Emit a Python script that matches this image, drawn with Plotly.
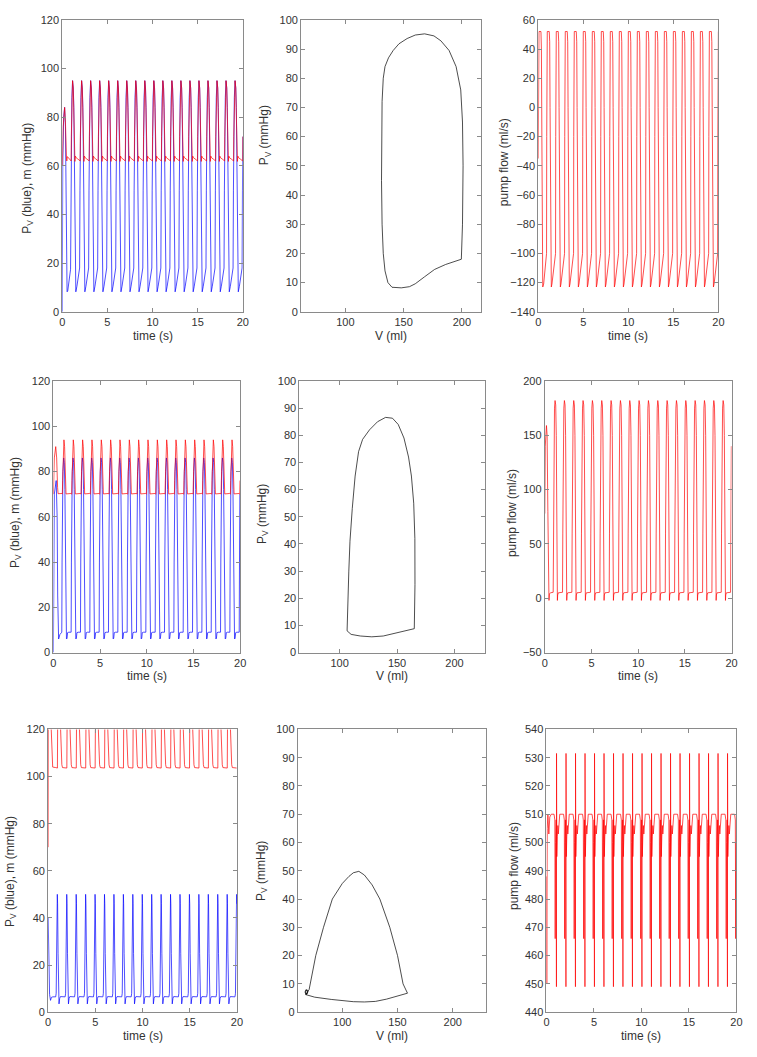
import plotly.graph_objects as go

W, H = 757, 1057

# ------------------------------------------------------------------ data
# beat onset times (s) for each row (one beat per second)
R1_BEATS = [0.92, 1.92, 2.92, 3.92, 4.92, 5.92, 6.92, 7.92, 8.92, 9.92,
            10.92, 11.92, 12.92, 13.92, 14.92, 15.92, 16.92, 17.92, 18.92, 19.92]
R2_BEATS = [0.90, 1.90, 2.90, 3.90, 4.90, 5.90, 6.90, 7.90, 8.90, 9.90,
            10.90, 11.90, 12.90, 13.90, 14.90, 15.90, 16.90, 17.90, 18.90, 19.90]
R3_BEATS = [0.80, 1.80, 2.80, 3.80, 4.80, 5.80, 6.80, 7.80, 8.80, 9.80,
            10.80, 11.80, 12.80, 13.80, 14.80, 15.80, 16.80, 17.80, 18.80, 19.80]

# ---- row 1: ventricular pressure (blue), m (red), pump flow
R1_PV_INIT_T = [0.0, 0.01, 0.05, 0.15, 0.26, 0.35, 0.42, 0.48, 0.53, 0.60, 0.75, 0.92]
R1_PV_INIT = [0, 30, 60, 80, 84, 76, 40, 12, 8.2, 8.5, 12, 17.5]
R1_PV_CYC_T = [0, 0.04, 0.08, 0.14, 0.22, 0.30, 0.36, 0.41, 0.45, 0.49, 0.53, 0.58, 0.70, 0.85, 0.98]
R1_PV_CYC = [18, 50, 72, 88, 95, 92, 84, 62, 30, 12, 8.3, 8.2, 10.5, 14, 17.5]

R1_PM_INIT_T = [0.0, 0.10, 0.26, 0.35, 0.45, 0.50, 0.56, 0.75, 0.92]
R1_PM_INIT = [60, 76, 84, 78, 64, 62, 63.8, 63, 62.4]
R1_PM_CYC_T = [0, 0.06, 0.08, 0.14, 0.22, 0.30, 0.36, 0.40, 0.44, 0.48, 0.53, 0.62, 0.80, 0.98]
R1_PM_CYC = [62.3, 62.0, 72, 88, 95, 92, 84, 72, 63, 61.8, 64, 63.3, 62.8, 62.4]

R1_Q_INIT_T = [0.0, 0.04, 0.08, 0.30, 0.35, 0.40, 0.45, 0.50, 0.60, 0.75, 0.92]
R1_Q_INIT = [-35, 40, 52, 52, 40, -20, -100, -123, -121, -112, -100]
R1_Q_CYC_T = [0, 0.02, 0.05, 0.08, 0.30, 0.35, 0.39, 0.43, 0.48, 0.53, 0.60, 0.75, 0.90, 0.98]
R1_Q_CYC = [-100, -20, 45, 52, 52, 45, 0, -70, -115, -123, -121, -112, -104, -100]

R1_LOOP_V = [140, 148, 155, 160, 168, 176.5, 186, 196, 199.5, 200.5, 201, 200.5, 199, 195, 189,
             182, 176, 168, 160, 153, 146, 141, 137, 134, 132.5, 131.5, 131, 131, 131.5, 132.5,
             134, 136.5, 140]
R1_LOOP_P = [8.4, 8.2, 8.6, 9.6, 12, 14.5, 16.2, 17.6, 18, 30, 50, 65, 76, 84, 89.5,
             92.8, 94.5, 95.2, 94.8, 93.6, 91.8, 89.5, 87, 84, 80, 72, 60, 45, 30, 20,
             14, 10, 8.4]

# ---- row 2
R2_PV_INIT_T = [0.0, 0.03, 0.10, 0.30, 0.40, 0.46, 0.50, 0.56, 0.70, 0.90]
R2_PV_INIT = [0, 40, 70, 76, 60, 25, 8, 6, 8, 9]
R2_PV_CYC_T = [0, 0.03, 0.07, 0.12, 0.20, 0.27, 0.33, 0.38, 0.42, 0.45, 0.50, 0.56, 0.62, 0.75, 0.98]
R2_PV_CYC = [9, 40, 70, 80, 86, 84, 72, 45, 15, 7, 6, 6.3, 8.8, 9, 9]

R2_PM_INIT_T = [0.0, 0.10, 0.25, 0.35, 0.45, 0.50, 0.90]
R2_PM_INIT = [70, 86, 91, 86, 73, 70.2, 70.3]
R2_PM_CYC_T = [0, 0.06, 0.09, 0.15, 0.23, 0.30, 0.36, 0.40, 0.45, 0.98]
R2_PM_CYC = [70.3, 70.0, 76, 88, 94, 91, 80, 71, 70.1, 70.3]

R2_Q_INIT_T = [0.0, 0.05, 0.18, 0.25, 0.33, 0.40, 0.45, 0.50, 0.60, 0.90]
R2_Q_INIT = [78, 140, 159, 150, 80, 10, -2, 4, 5, 5.5]
R2_Q_CYC_T = [0, 0.03, 0.08, 0.14, 0.20, 0.27, 0.33, 0.38, 0.42, 0.45, 0.48, 0.55, 0.98]
R2_Q_CYC = [5.5, 60, 140, 175, 182, 178, 150, 80, 20, -2, 3, 5, 5.5]

R2_LOOP_V = [106.5, 110, 118, 128, 138, 148, 158, 165, 165.6, 165.5, 164.5, 162.5, 160, 156,
             151, 146, 140, 133, 126, 120, 116.5, 113.5, 111, 109, 108, 107.2, 106.8, 106.5]
R2_LOOP_P = [8, 6.7, 6.1, 5.8, 6.1, 7.0, 8.0, 8.8, 25, 42, 55, 65, 72, 79,
             84, 86.3, 86.6, 85, 82, 78.5, 74, 65, 53, 41, 30, 20, 12, 8]

# ---- row 3
R3_PV_INIT_T = [0.0, 0.05, 0.10, 0.15, 0.25, 0.35, 0.50, 0.80]
R3_PV_INIT = [40, 20, 8, 7.5, 5, 6.3, 6.5, 6.5]
R3_PV_CYC_T = [0, 0.05, 0.10, 0.15, 0.17, 0.20, 0.25, 0.30, 0.35, 0.42, 0.50, 0.98]
R3_PV_CYC = [6.5, 8, 22, 44, 50, 46, 25, 9, 3.5, 5.8, 6.6, 6.5]

R3_PM_INIT_T = [0.0, 0.02, 0.25, 0.32, 0.40, 0.48, 0.80]
R3_PM_INIT = [70, 130, 128, 120, 110, 104, 103.8]
R3_PM_CYC_T = [0, 0.18, 0.21, 0.30, 0.45, 0.52, 0.58, 0.65, 0.72, 0.98]
R3_PM_CYC = [103.8, 103.6, 125, 132, 128, 120, 110, 105, 103.8, 103.8]

R3_Q_INIT_T = [0.0, 0.03, 0.08, 0.15, 0.25, 0.35, 0.50, 0.80]
R3_Q_INIT = [488, 450, 505, 510, 503, 509, 510, 510]
R3_Q_CYC_T = [0, 0.08, 0.12, 0.16, 0.22, 0.25, 0.26, 0.29, 0.34, 0.40, 0.45, 0.52, 0.60, 0.98]
R3_Q_CYC = [510, 508, 466, 500, 508, 449, 531.5, 495, 502, 506, 503, 509, 510, 510]

R3_LOOP_START_V = [67, 68.2, 68.8, 68.2, 67, 66.3, 67, 68, 68.5, 68, 67.2, 66.7, 67]
R3_LOOP_START_P = [6.2, 6.4, 7.2, 7.9, 7.9, 7.1, 6.5, 6.6, 7.2, 7.7, 7.6, 7.0, 6.2]
R3_LOOP_V = [67, 75, 90, 100, 110, 120, 130, 140, 150, 159, 155, 150, 143, 134, 127, 120,
             115, 110, 106, 100, 91, 83, 76, 71.5, 70, 67]
R3_LOOP_P = [6.2, 5.3, 4.5, 4.1, 3.7, 3.6, 3.8, 4.6, 5.6, 6.7, 10, 20, 30, 40, 45, 48.5,
             49.8, 49.3, 48, 45.5, 40, 30, 20, 10, 8, 6.2]

# axis ranges / ticks
TIME_RANGE = [0, 20]
TIME_TICKS = [0, 5, 10, 15, 20]
P_RANGE = [0, 120]
P_TICKS = [0, 20, 40, 60, 80, 100, 120]
LOOP_P_RANGE = [0, 100]
LOOP_P_TICKS = [0, 10, 20, 30, 40, 50, 60, 70, 80, 90, 100]
LOOP_V_TICKS = [100, 150, 200]
LOOP_V_RANGES = [[62, 216], [65, 227], [59.7, 230.5]]
Q_RANGES = [[-140, 60], [-50, 200], [440, 540]]
Q_TICKS = [[-140, -120, -100, -80, -60, -40, -20, 0, 20, 40, 60],
           [-50, 0, 50, 100, 150, 200],
           [440, 450, 460, 470, 480, 490, 500, 510, 520, 530, 540]]

TIME_TITLE = "time (s)"
PRES_TITLE = "P<sub>V</sub> (blue), m (mmHg)"
LOOP_Y_TITLE = "P<sub>V</sub> (mmHg)"
LOOP_X_TITLE = "V (ml)"
FLOW_TITLE = "pump flow (ml/s)"


def tile(init_t, init_v, beats, cyc_t, cyc_v, t_end=20.0):
    ts, vs = list(init_t), list(init_v)
    for b in beats:
        for dt, val in zip(cyc_t, cyc_v):
            if b + dt <= t_end + 1e-9:
                ts.append(round(b + dt, 4))
                vs.append(val)
    return ts, vs


# ------------------------------------------------------------------ layout geometry (pixels)
X_PX = [[(60, 242.7), (301.7, 483.3), (541.7, 724)],
        [(51, 240), (300, 488.3), (548.3, 737.3)],
        [(45.7, 236.7), (298.3, 489.3), (550, 742.3)]]
Y_PX = [(14, 309.3), (379.3, 654), (731.7, 1017.7)]

fig = go.Figure()

FONT = "Liberation Sans, Arial, Helvetica, sans-serif"
TXT = "#333333"
AX = "#8a8a8a"

rows_time = [
    (R1_PV_INIT_T, R1_PV_INIT, R1_BEATS, R1_PV_CYC_T, R1_PV_CYC,
     R1_PM_INIT_T, R1_PM_INIT, R1_PM_CYC_T, R1_PM_CYC,
     R1_Q_INIT_T, R1_Q_INIT, R1_Q_CYC_T, R1_Q_CYC,
     [R1_LOOP_V], [R1_LOOP_P]),
    (R2_PV_INIT_T, R2_PV_INIT, R2_BEATS, R2_PV_CYC_T, R2_PV_CYC,
     R2_PM_INIT_T, R2_PM_INIT, R2_PM_CYC_T, R2_PM_CYC,
     R2_Q_INIT_T, R2_Q_INIT, R2_Q_CYC_T, R2_Q_CYC,
     [R2_LOOP_V], [R2_LOOP_P]),
    (R3_PV_INIT_T, R3_PV_INIT, R3_BEATS, R3_PV_CYC_T, R3_PV_CYC,
     R3_PM_INIT_T, R3_PM_INIT, R3_PM_CYC_T, R3_PM_CYC,
     R3_Q_INIT_T, R3_Q_INIT, R3_Q_CYC_T, R3_Q_CYC,
     [R3_LOOP_START_V, R3_LOOP_V], [R3_LOOP_START_P, R3_LOOP_P]),
]

annotations = []
LW = 0.7


def ax_common():
    return dict(showline=True, linecolor=AX, linewidth=1, mirror="ticks",
                ticks="inside", ticklen=4, tickcolor=AX, tickwidth=1,
                showgrid=False, zeroline=False,
                tickfont=dict(family=FONT, size=11, color=TXT))


def add_title(text, px, py, vertical=False):
    annotations.append(dict(text=text, x=px / W, y=1 - py / H, xref="paper", yref="paper",
                            showarrow=False, xanchor="center", yanchor="middle",
                            textangle=-90 if vertical else 0,
                            font=dict(family=FONT, size=12, color=TXT)))


YT_X = [[25, 265, 507], [13, 263, 515], [8, 262, 517]]
YT_Y = [[174, 131, 158], [512, 514, 513], [875, 875, 870]]

for r, row in enumerate(rows_time):
    (pv_it, pv_i, beats, pv_ct, pv_c, pm_it, pm_i, pm_ct, pm_c,
     q_it, q_i, q_ct, q_c, loop_vs, loop_ps) = row
    top, bot = Y_PX[r]
    ydom = [1 - bot / H, 1 - top / H]
    for c in range(3):
        idx = r * 3 + c + 1
        xa = "x" if idx == 1 else f"x{idx}"
        ya = "y" if idx == 1 else f"y{idx}"
        left, right = X_PX[r][c]
        xdom = [left / W, right / W]
        xkey = "xaxis" if idx == 1 else f"xaxis{idx}"
        ykey = "yaxis" if idx == 1 else f"yaxis{idx}"
        xa_cfg = ax_common()
        ya_cfg = ax_common()
        xa_cfg.update(domain=xdom, anchor=ya)
        ya_cfg.update(domain=ydom, anchor=xa)
        if c == 0:
            t, v = tile(pv_it, pv_i, beats, pv_ct, pv_c)
            fig.add_trace(go.Scatter(x=t, y=v, mode="lines", xaxis=xa, yaxis=ya,
                                     line=dict(color="#0000ff", width=LW)))
            t, v = tile(pm_it, pm_i, beats, pm_ct, pm_c)
            fig.add_trace(go.Scatter(x=t, y=v, mode="lines", xaxis=xa, yaxis=ya,
                                     line=dict(color="#ff0000", width=LW)))
            xa_cfg.update(range=TIME_RANGE, tickvals=TIME_TICKS)
            ya_cfg.update(range=P_RANGE, tickvals=P_TICKS)
            add_title(TIME_TITLE, (left + right) / 2, bot + 24)
            add_title(PRES_TITLE, YT_X[r][c], YT_Y[r][c], vertical=True)
        elif c == 1:
            vv, pp = [], []
            for lv, lp in zip(loop_vs, loop_ps):
                vv += lv
                pp += lp
            fig.add_trace(go.Scatter(x=vv, y=pp, mode="lines", xaxis=xa, yaxis=ya,
                                     line=dict(color="#000000", width=LW)))
            xa_cfg.update(range=LOOP_V_RANGES[r], tickvals=LOOP_V_TICKS)
            ya_cfg.update(range=LOOP_P_RANGE, tickvals=LOOP_P_TICKS)
            add_title(LOOP_X_TITLE, (left + right) / 2, bot + 24)
            add_title(LOOP_Y_TITLE, YT_X[r][c], YT_Y[r][c], vertical=True)
        else:
            t, v = tile(q_it, q_i, beats, q_ct, q_c)
            fig.add_trace(go.Scatter(x=t, y=v, mode="lines", xaxis=xa, yaxis=ya,
                                     line=dict(color="#ff0000", width=LW)))
            xa_cfg.update(range=TIME_RANGE, tickvals=TIME_TICKS)
            ya_cfg.update(range=Q_RANGES[r], tickvals=Q_TICKS[r])
            add_title(TIME_TITLE, (left + right) / 2, bot + 24)
            add_title(FLOW_TITLE, YT_X[r][c], YT_Y[r][c], vertical=True)
        fig.layout[xkey] = xa_cfg
        fig.layout[ykey] = ya_cfg

fig.update_layout(width=W, height=H, margin=dict(l=0, r=0, t=0, b=0),
                  paper_bgcolor="white", plot_bgcolor="white", showlegend=False,
                  annotations=annotations, hovermode=False,
                  font=dict(family=FONT, size=11, color=TXT))

fig.write_html("out.html", config={"displayModeBar": False, "staticPlot": True},
               post_script="document.body.style.margin='0';document.body.style.overflow='hidden';")
